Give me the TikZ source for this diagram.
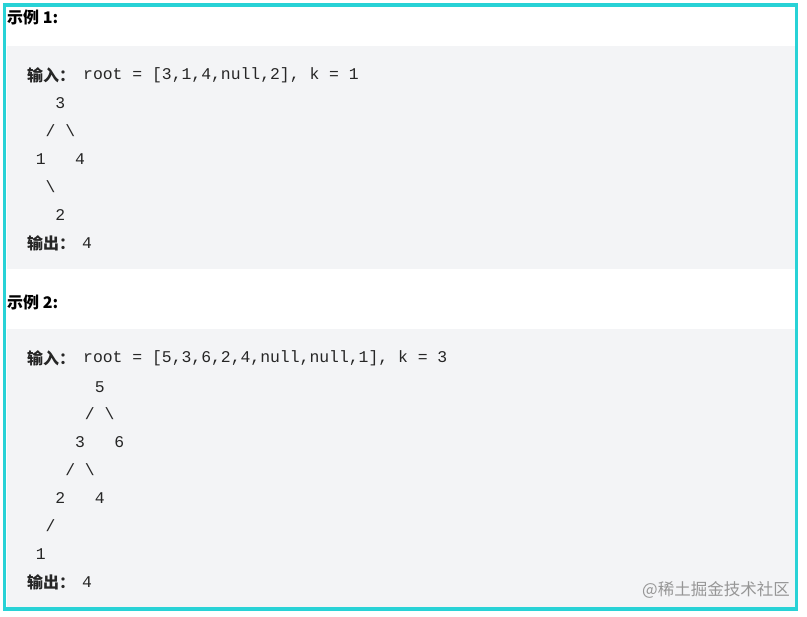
\documentclass[tikz,border=0pt]{standalone}
\usepackage{fontspec}
\setmonofont{Liberation Mono}
\newfontfamily\cjk{Noto Sans CJK SC}
\definecolor{bordercyan}{RGB}{40,210,214}
\definecolor{codebg}{RGB}{243,244,246}
\definecolor{txt}{RGB}{38,38,38}
\definecolor{wm}{RGB}{150,150,150}
\tikzset{
  heading/.style={anchor=west,inner sep=0pt,font=\cjk\bfseries\fontsize{16}{18}\selectfont,text=black},
  label/.style={anchor=west,inner sep=0pt,font=\cjk\bfseries\fontsize{16}{18}\selectfont,text=txt},
  code/.style={anchor=west,inner sep=0pt,font=\ttfamily\fontsize{16.4}{18}\selectfont,text=txt},
  ch/.style={anchor=center,inner sep=0pt,font=\ttfamily\fontsize{16.4}{18}\selectfont,text=txt},
  water/.style={anchor=east,inner sep=0pt,font=\cjk\fontsize{16.5}{18}\selectfont,text=wm}
}
\newcommand{\cx}[1]{\fpeval{26+(#1+0.5)*9.83}}
\begin{document}
\begin{tikzpicture}[x=1pt,y=-1pt]
\useasboundingbox (0,0) rectangle (807,617);
\fill[white] (0,0) rectangle (807,617);
% code backgrounds
\fill[codebg] (7,46) rectangle (796,269);
\fill[codebg] (7,329) rectangle (796,608);
% border
\draw[bordercyan,line width=3.5pt] (4.5,5) rectangle (796.5,609);
% example 1
\node[heading] (h1) at (7,17) {示例 1:};
\node[label] (in1) at (27,75) {输入：};
\node[code] (c1) at (83,75) {root = [3,1,4,null,2], k = 1};
\node[ch] (a3) at (\cx{3},103) {3};
\node[ch] (s1) at (\cx{2},131) {/};
\node[ch] (b1) at (\cx{4},131) {\textbackslash};
\node[ch] (a1) at (\cx{1},159) {1};
\node[ch] (a4) at (\cx{5},159) {4};
\node[ch] (b2) at (\cx{2},187) {\textbackslash};
\node[ch] (a2) at (\cx{3},215) {2};
\node[label] (out1) at (27,243) {输出：};
\node[ch] (o1) at (87,243) {4};
% example 2
\node[heading] (h2) at (7,302) {示例 2:};
\node[label] (in2) at (27,358) {输入：};
\node[code] (c2) at (83,358) {root = [5,3,6,2,4,null,null,1], k = 3};
\node[ch] (n5) at (\cx{7},387) {5};
\node[ch] (t1) at (\cx{6},414) {/};
\node[ch] (u1) at (\cx{8},414) {\textbackslash};
\node[ch] (n3) at (\cx{5},442) {3};
\node[ch] (n6) at (\cx{9},442) {6};
\node[ch] (t2) at (\cx{4},470) {/};
\node[ch] (u2) at (\cx{6},470) {\textbackslash};
\node[ch] (n2) at (\cx{3},498) {2};
\node[ch] (n4) at (\cx{7},498) {4};
\node[ch] (t3) at (\cx{2},526) {/};
\node[ch] (n1) at (\cx{1},554) {1};
\node[label] (out2) at (27,582) {输出：};
\node[ch] (o2) at (87,582) {4};
% watermark
\node[water] (wmk) at (790,590) {@稀土掘金技术社区};
\end{tikzpicture}
\end{document}
